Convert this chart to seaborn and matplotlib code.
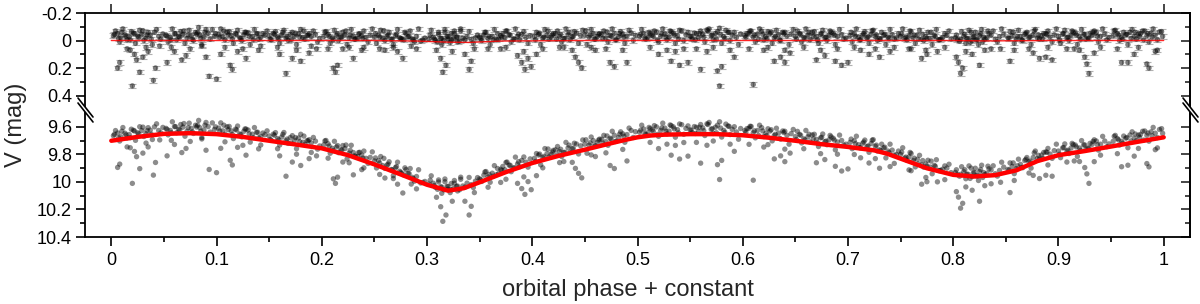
import numpy as np
import pandas as pd
import matplotlib
matplotlib.use("Agg")
import matplotlib.pyplot as plt
import seaborn as sns
from matplotlib.ticker import FixedLocator, FuncFormatter

phase = [
    0.002, 0.006, 0.009, 0.013, 0.017, 0.021, 0.025, 0.029, 0.033, 0.037, 0.041, 0.045, 0.049, 0.006, 0.008, 0.020, 0.022, 0.024, 0.027, 0.030, 0.040, 0.042, 0.015, 0.035,
    0.052, 0.056, 0.060, 0.064, 0.068, 0.072, 0.076, 0.080, 0.083, 0.084, 0.088, 0.092, 0.096, 0.098, 0.053, 0.067, 0.071, 0.060, 0.090, 0.093,
    0.102, 0.106, 0.110, 0.114, 0.118, 0.122, 0.126, 0.130, 0.134, 0.138, 0.142, 0.146, 0.100, 0.104, 0.113, 0.115, 0.120, 0.128, 0.140,
    0.150, 0.154, 0.158, 0.162, 0.166, 0.170, 0.174, 0.178, 0.182, 0.186, 0.190, 0.194, 0.198, 0.166, 0.160, 0.172, 0.180, 0.188, 0.195,
    0.202, 0.206, 0.210, 0.214, 0.218, 0.222, 0.226, 0.230, 0.234, 0.238, 0.242, 0.246, 0.211, 0.213, 0.215, 0.230, 0.220, 0.240,
    0.250, 0.254, 0.258, 0.262, 0.266, 0.270, 0.274, 0.278, 0.282, 0.286, 0.290, 0.294, 0.298, 0.277, 0.260, 0.268, 0.285,
    0.302, 0.306, 0.310, 0.313, 0.316, 0.319, 0.322, 0.325, 0.328, 0.331, 0.334, 0.338, 0.342, 0.346, 0.315, 0.318, 0.313, 0.340, 0.342, 0.336,
    0.350, 0.354, 0.358, 0.362, 0.366, 0.370, 0.374, 0.378, 0.382, 0.386, 0.390, 0.394, 0.398, 0.386, 0.390, 0.393, 0.396, 0.399, 0.370,
    0.402, 0.406, 0.410, 0.414, 0.418, 0.422, 0.426, 0.430, 0.434, 0.438, 0.442, 0.446, 0.404, 0.441, 0.447, 0.444, 0.430,
    0.450, 0.454, 0.458, 0.462, 0.466, 0.470, 0.474, 0.478, 0.482, 0.486, 0.490, 0.494, 0.498, 0.474, 0.478, 0.490, 0.460,
    0.502, 0.506, 0.510, 0.514, 0.518, 0.522, 0.526, 0.530, 0.534, 0.538, 0.542, 0.546, 0.532, 0.540, 0.548, 0.520, 0.536,
    0.550, 0.554, 0.558, 0.562, 0.566, 0.570, 0.574, 0.578, 0.582, 0.586, 0.590, 0.594, 0.598, 0.560, 0.578, 0.580, 0.576, 0.566, 0.592,
    0.602, 0.606, 0.610, 0.614, 0.618, 0.622, 0.626, 0.630, 0.634, 0.638, 0.642, 0.646, 0.610, 0.630, 0.636, 0.640, 0.645, 0.620,
    0.650, 0.654, 0.658, 0.662, 0.666, 0.670, 0.674, 0.678, 0.682, 0.686, 0.690, 0.694, 0.698, 0.670, 0.678, 0.688, 0.694, 0.700,
    0.702, 0.706, 0.710, 0.714, 0.718, 0.722, 0.726, 0.730, 0.734, 0.738, 0.742, 0.746, 0.720, 0.730, 0.740, 0.712,
    0.750, 0.754, 0.758, 0.762, 0.766, 0.770, 0.774, 0.778, 0.782, 0.786, 0.790, 0.794, 0.798, 0.770, 0.775, 0.785, 0.760,
    0.802, 0.806, 0.810, 0.813, 0.816, 0.819, 0.822, 0.825, 0.828, 0.832, 0.836, 0.840, 0.844, 0.848, 0.805, 0.807, 0.809, 0.803, 0.825, 0.830, 0.845,
    0.852, 0.856, 0.860, 0.864, 0.868, 0.872, 0.876, 0.880, 0.884, 0.888, 0.892, 0.896, 0.854, 0.882, 0.888, 0.894, 0.876,
    0.900, 0.904, 0.908, 0.912, 0.916, 0.920, 0.924, 0.928, 0.932, 0.936, 0.940, 0.944, 0.948, 0.927, 0.929, 0.925, 0.934, 0.915,
    0.952, 0.956, 0.960, 0.964, 0.968, 0.972, 0.976, 0.980, 0.984, 0.988, 0.992, 0.996, 0.999, 0.960, 0.966, 0.984, 0.986, 0.972, 0.992,
]
vmag = [
    9.663, 9.644, 9.671, 9.645, 9.655, 9.624, 9.642, 9.626, 9.649, 9.623, 9.599, 9.625, 9.603, 9.894, 9.870, 10.010, 9.778, 9.816, 9.903, 9.790, 9.950, 9.858, 9.745, 9.745,
    9.610, 9.625, 9.597, 9.617, 9.601, 9.631, 9.610, 9.587, 9.552, 9.605, 9.622, 9.597, 9.570, 9.618, 9.810, 9.786, 9.756, 9.727, 9.769, 9.909,
    9.608, 9.628, 9.599, 9.628, 9.616, 9.650, 9.631, 9.622, 9.652, 9.639, 9.669, 9.656, 9.932, 9.755, 9.842, 9.876, 9.748, 9.805, 9.759,
    9.665, 9.652, 9.684, 9.673, 9.700, 9.677, 9.696, 9.680, 9.711, 9.699, 9.716, 9.703, 9.738, 9.958, 9.810, 9.855, 9.880, 9.830, 9.810,
    9.729, 9.722, 9.755, 9.745, 9.766, 9.757, 9.790, 9.786, 9.814, 9.805, 9.828, 9.821, 9.977, 10.010, 9.965, 9.948, 9.855, 9.897,
    9.847, 9.844, 9.881, 9.877, 9.909, 9.895, 9.922, 9.949, 9.938, 9.966, 9.960, 10.007, 9.996, 10.080, 9.971, 9.975, 10.015,
    10.015, 10.009, 10.053, 10.035, 10.057, 10.032, 10.077, 10.048, 10.031, 10.056, 10.029, 10.008, 10.019, 9.994, 10.286, 10.240, 10.180, 10.240, 10.177, 10.140,
    9.977, 9.950, 9.963, 9.936, 9.947, 9.908, 9.911, 9.878, 9.898, 9.869, 9.843, 9.856, 9.832, 10.010, 10.048, 10.090, 9.997, 10.056, 10.003,
    9.828, 9.804, 9.823, 9.794, 9.799, 9.766, 9.778, 9.786, 9.752, 9.759, 9.724, 9.737, 9.954, 9.901, 9.970, 9.937, 9.851,
    9.725, 9.732, 9.699, 9.712, 9.689, 9.707, 9.682, 9.660, 9.676, 9.650, 9.655, 9.625, 9.634, 9.880, 9.902, 9.847, 9.815,
    9.638, 9.615, 9.641, 9.621, 9.599, 9.625, 9.608, 9.630, 9.599, 9.619, 9.583, 9.610, 9.805, 9.833, 9.812, 9.757, 9.734,
    9.622, 9.597, 9.632, 9.607, 9.577, 9.617, 9.602, 9.562, 9.625, 9.593, 9.617, 9.636, 9.611, 9.863, 9.982, 9.843, 9.874, 9.733, 9.777,
    9.626, 9.609, 9.642, 9.625, 9.605, 9.646, 9.629, 9.662, 9.644, 9.629, 9.661, 9.648, 9.987, 9.832, 9.810, 9.852, 9.790, 9.746,
    9.670, 9.654, 9.686, 9.672, 9.658, 9.690, 9.679, 9.707, 9.693, 9.682, 9.709, 9.698, 9.725, 9.860, 9.837, 9.886, 9.920, 9.905,
    9.712, 9.700, 9.729, 9.718, 9.742, 9.720, 9.740, 9.765, 9.752, 9.775, 9.768, 9.800, 9.862, 9.900, 9.888, 9.824,
    9.800, 9.826, 9.817, 9.844, 9.835, 9.876, 9.869, 9.891, 9.879, 9.916, 9.907, 9.899, 9.932, 10.016, 9.998, 9.999, 9.918,
    9.930, 9.958, 9.925, 9.945, 9.974, 9.935, 9.955, 9.924, 9.967, 9.937, 9.913, 9.940, 9.916, 9.892, 10.110, 10.190, 10.155, 10.070, 10.140, 10.027, 10.002,
    9.909, 9.887, 9.903, 9.872, 9.844, 9.853, 9.822, 9.830, 9.804, 9.781, 9.797, 9.772, 10.077, 9.975, 9.951, 9.958, 9.952,
    9.775, 9.752, 9.775, 9.753, 9.731, 9.753, 9.731, 9.753, 9.726, 9.702, 9.725, 9.702, 9.723, 9.941, 10.010, 9.895, 9.852, 9.847,
    9.704, 9.684, 9.704, 9.681, 9.658, 9.682, 9.659, 9.631, 9.661, 9.635, 9.645, 9.618, 9.646, 9.889, 9.878, 9.866, 9.890, 9.812, 9.765,
]
resid = [
    -0.035, -0.050, -0.020, -0.042, -0.028, -0.055, -0.033, -0.045, -0.018, -0.040, -0.060, -0.030, -0.048, 0.20, 0.16, 0.33, 0.10, 0.14, 0.23, 0.12, 0.29, 0.20, 0.06, 0.08,
    -0.038, -0.022, -0.050, -0.030, -0.045, -0.015, -0.035, -0.058, -0.095, -0.040, -0.025, -0.052, -0.080, -0.032, 0.16, 0.14, 0.11, 0.08, 0.12, 0.26,
    -0.045, -0.028, -0.060, -0.035, -0.050, -0.020, -0.042, -0.055, -0.030, -0.048, -0.022, -0.040, 0.28, 0.10, 0.18, 0.21, 0.08, 0.13, 0.07,
    -0.035, -0.052, -0.025, -0.040, -0.018, -0.045, -0.030, -0.050, -0.022, -0.038, -0.028, -0.045, -0.015, 0.24, 0.10, 0.13, 0.15, 0.09, 0.06,
    -0.030, -0.045, -0.020, -0.038, -0.025, -0.042, -0.018, -0.032, -0.015, -0.035, -0.022, -0.040, 0.20, 0.23, 0.18, 0.13, 0.06, 0.05,
    -0.025, -0.040, -0.015, -0.030, -0.010, -0.035, -0.020, -0.005, -0.028, -0.012, -0.030, 0.005, -0.018, 0.13, 0.07, 0.05, 0.04,
    -0.010, -0.025, 0.010, -0.015, 0.000, -0.030, 0.015, -0.012, -0.025, 0.005, -0.018, -0.030, -0.008, -0.020, 0.23, 0.18, 0.13, 0.21, 0.15, 0.10,
    -0.025, -0.040, -0.015, -0.030, -0.008, -0.035, -0.020, -0.042, -0.012, -0.030, -0.045, -0.022, -0.035, 0.11, 0.16, 0.21, 0.13, 0.19, 0.06,
    -0.030, -0.045, -0.018, -0.038, -0.025, -0.050, -0.030, -0.015, -0.042, -0.028, -0.055, -0.035, 0.10, 0.12, 0.20, 0.16, 0.05,
    -0.040, -0.025, -0.050, -0.030, -0.045, -0.020, -0.038, -0.052, -0.028, -0.045, -0.032, -0.055, -0.038, 0.16, 0.19, 0.16, 0.07,
    -0.030, -0.050, -0.022, -0.040, -0.060, -0.032, -0.048, -0.025, -0.055, -0.035, -0.070, -0.042, 0.15, 0.18, 0.16, 0.10, 0.08,
    -0.030, -0.055, -0.020, -0.045, -0.075, -0.035, -0.050, -0.090, -0.028, -0.060, -0.040, -0.022, -0.048, 0.21, 0.33, 0.19, 0.22, 0.08, 0.12,
    -0.035, -0.055, -0.025, -0.045, -0.068, -0.030, -0.050, -0.020, -0.042, -0.060, -0.032, -0.048, 0.32, 0.15, 0.12, 0.16, 0.09, 0.07,
    -0.030, -0.050, -0.022, -0.040, -0.058, -0.030, -0.045, -0.020, -0.038, -0.052, -0.028, -0.042, -0.018, 0.14, 0.11, 0.15, 0.18, 0.16,
    -0.035, -0.050, -0.025, -0.040, -0.020, -0.045, -0.030, -0.015, -0.038, -0.025, -0.042, -0.020, 0.10, 0.12, 0.08, 0.07,
    -0.030, -0.015, -0.035, -0.020, -0.040, -0.010, -0.028, -0.015, -0.035, -0.005, -0.022, -0.038, -0.012, 0.13, 0.10, 0.08, 0.06,
    -0.020, 0.005, -0.030, -0.012, 0.015, -0.025, -0.005, -0.035, 0.010, -0.018, -0.040, -0.010, -0.028, -0.045, 0.16, 0.24, 0.20, 0.12, 0.18, 0.07, 0.06,
    -0.020, -0.035, -0.012, -0.030, -0.045, -0.022, -0.040, -0.018, -0.035, -0.050, -0.025, -0.042, 0.15, 0.13, 0.12, 0.14, 0.09,
    -0.030, -0.048, -0.020, -0.038, -0.055, -0.028, -0.045, -0.018, -0.040, -0.058, -0.030, -0.048, -0.022, 0.17, 0.24, 0.12, 0.09, 0.06,
    -0.035, -0.050, -0.025, -0.042, -0.060, -0.030, -0.048, -0.070, -0.035, -0.055, -0.040, -0.062, -0.030, 0.16, 0.16, 0.17, 0.20, 0.10, 0.08,
]

# second batch of observations, same layout
phase_b = [
    0.004, 0.008, 0.011, 0.015, 0.019, 0.023, 0.027, 0.031, 0.035, 0.039, 0.043, 0.047, 0.018, 0.033, 0.046,
    0.054, 0.058, 0.062, 0.066, 0.070, 0.074, 0.078, 0.082, 0.086, 0.090, 0.094, 0.099, 0.057, 0.075, 0.086,
    0.104, 0.108, 0.112, 0.116, 0.120, 0.124, 0.128, 0.132, 0.136, 0.140, 0.144, 0.148, 0.108, 0.125, 0.142,
    0.152, 0.156, 0.160, 0.164, 0.168, 0.172, 0.176, 0.180, 0.184, 0.188, 0.192, 0.196, 0.158, 0.176, 0.190,
    0.204, 0.208, 0.212, 0.216, 0.220, 0.224, 0.228, 0.232, 0.236, 0.240, 0.244, 0.248, 0.206, 0.226, 0.238,
    0.252, 0.256, 0.260, 0.264, 0.268, 0.272, 0.276, 0.280, 0.284, 0.288, 0.292, 0.296, 0.255, 0.272, 0.290,
    0.304, 0.308, 0.311, 0.314, 0.317, 0.320, 0.323, 0.326, 0.329, 0.332, 0.336, 0.340, 0.344, 0.348, 0.309, 0.324, 0.345,
    0.352, 0.356, 0.360, 0.364, 0.368, 0.372, 0.376, 0.380, 0.384, 0.388, 0.392, 0.396, 0.358, 0.375, 0.392,
    0.404, 0.408, 0.412, 0.416, 0.420, 0.424, 0.428, 0.432, 0.436, 0.440, 0.444, 0.448, 0.410, 0.426, 0.438,
    0.452, 0.456, 0.460, 0.464, 0.468, 0.472, 0.476, 0.480, 0.484, 0.488, 0.492, 0.496, 0.456, 0.470, 0.486,
    0.504, 0.508, 0.512, 0.516, 0.520, 0.524, 0.528, 0.532, 0.536, 0.540, 0.544, 0.548, 0.512, 0.528, 0.544,
    0.552, 0.556, 0.560, 0.564, 0.568, 0.572, 0.576, 0.580, 0.584, 0.588, 0.592, 0.596, 0.556, 0.572, 0.588,
    0.604, 0.608, 0.612, 0.616, 0.620, 0.624, 0.628, 0.632, 0.636, 0.640, 0.644, 0.648, 0.606, 0.624, 0.640,
    0.652, 0.656, 0.660, 0.664, 0.668, 0.672, 0.676, 0.680, 0.684, 0.688, 0.692, 0.696, 0.658, 0.674, 0.690,
    0.704, 0.708, 0.712, 0.716, 0.720, 0.724, 0.728, 0.732, 0.736, 0.740, 0.744, 0.748, 0.706, 0.726, 0.744,
    0.752, 0.756, 0.760, 0.764, 0.768, 0.772, 0.776, 0.780, 0.784, 0.788, 0.792, 0.796, 0.758, 0.774, 0.792,
    0.804, 0.808, 0.812, 0.815, 0.818, 0.821, 0.824, 0.827, 0.830, 0.834, 0.838, 0.842, 0.846, 0.812, 0.818, 0.836,
    0.854, 0.858, 0.862, 0.866, 0.870, 0.874, 0.878, 0.882, 0.886, 0.890, 0.894, 0.898, 0.858, 0.872, 0.890,
    0.902, 0.906, 0.910, 0.914, 0.918, 0.922, 0.926, 0.930, 0.934, 0.938, 0.942, 0.946, 0.908, 0.920, 0.940,
    0.954, 0.958, 0.962, 0.966, 0.970, 0.974, 0.978, 0.982, 0.986, 0.990, 0.994, 0.998, 0.956, 0.976, 0.994,
]
vmag_b = [
    9.626, 9.702, 9.604, 9.680, 9.616, 9.697, 9.598, 9.669, 9.605, 9.691, 9.577, 9.643, 9.751, 9.717, 9.694,
    9.657, 9.562, 9.642, 9.582, 9.667, 9.572, 9.647, 9.587, 9.677, 9.567, 9.637, 9.599, 9.697, 9.705, 9.687,
    9.570, 9.653, 9.596, 9.684, 9.593, 9.672, 9.615, 9.710, 9.604, 9.679, 9.644, 9.628, 9.708, 9.733, 9.731,
    9.697, 9.641, 9.731, 9.640, 9.719, 9.663, 9.758, 9.653, 9.727, 9.692, 9.676, 9.761, 9.758, 9.798, 9.785,
    9.698, 9.791, 9.704, 9.787, 9.735, 9.833, 9.733, 9.813, 9.784, 9.775, 9.865, 9.781, 9.827, 9.860, 9.910,
    9.898, 9.815, 9.901, 9.853, 9.954, 9.856, 9.938, 9.910, 9.902, 9.994, 9.911, 10.003, 9.945, 10.016, 10.050,
    9.955, 10.039, 9.985, 10.082, 9.978, 10.053, 10.011, 9.989, 10.065, 9.965, 10.038, 9.967, 10.040, 9.968, 10.111, 10.140, 10.077,
    9.996, 9.924, 10.002, 9.881, 9.939, 9.887, 9.855, 9.925, 9.819, 9.889, 9.818, 9.892, 10.038, 9.980, 9.963,
    9.793, 9.875, 9.757, 9.818, 9.770, 9.742, 9.815, 9.712, 9.785, 9.718, 9.796, 9.694, 9.897, 9.859, 9.857,
    9.791, 9.673, 9.736, 9.688, 9.661, 9.733, 9.631, 9.703, 9.635, 9.711, 9.608, 9.676, 9.803, 9.788, 9.763,
    9.587, 9.654, 9.612, 9.590, 9.668, 9.572, 9.650, 9.590, 9.674, 9.578, 9.653, 9.592, 9.712, 9.725, 9.713,
    9.642, 9.602, 9.582, 9.662, 9.567, 9.647, 9.587, 9.673, 9.579, 9.655, 9.598, 9.689, 9.712, 9.702, 9.725,
    9.612, 9.596, 9.679, 9.587, 9.670, 9.613, 9.701, 9.609, 9.688, 9.631, 9.725, 9.618, 9.726, 9.728, 9.761,
    9.632, 9.716, 9.625, 9.709, 9.653, 9.742, 9.651, 9.729, 9.672, 9.766, 9.659, 9.732, 9.758, 9.794, 9.798,
    9.758, 9.667, 9.751, 9.695, 9.784, 9.692, 9.775, 9.725, 9.825, 9.725, 9.805, 9.775, 9.800, 9.830, 9.865,
    9.751, 9.842, 9.793, 9.890, 9.806, 9.892, 9.842, 9.940, 9.838, 9.915, 9.883, 9.871, 9.912, 9.967, 9.983,
    9.946, 9.889, 9.976, 9.883, 9.960, 9.900, 9.989, 9.878, 9.946, 9.904, 9.882, 9.957, 9.856, 10.036, 10.060, 10.013,
    9.861, 9.939, 9.834, 9.896, 9.822, 9.899, 9.775, 9.834, 9.785, 9.756, 9.828, 9.725, 9.989, 9.935, 9.876,
    9.823, 9.723, 9.793, 9.728, 9.814, 9.699, 9.764, 9.719, 9.693, 9.768, 9.668, 9.743, 9.855, 9.851, 9.805,
    9.661, 9.731, 9.666, 9.751, 9.635, 9.700, 9.654, 9.629, 9.703, 9.603, 9.677, 9.612, 9.794, 9.756, 9.752,
]
resid_b = [
    -0.070, 0.010, -0.085, -0.005, -0.065, 0.020, -0.075, 0.000, -0.060, 0.030, -0.080, -0.010, 0.07, 0.05, 0.04,
    0.010, -0.085, -0.005, -0.065, 0.020, -0.075, 0.000, -0.060, 0.030, -0.080, -0.010, -0.050, 0.05, 0.06, 0.04,
    -0.085, -0.005, -0.065, 0.020, -0.075, 0.000, -0.060, 0.030, -0.080, -0.010, -0.050, -0.070, 0.05, 0.06, 0.04,
    -0.005, -0.065, 0.020, -0.075, 0.000, -0.060, 0.030, -0.080, -0.010, -0.050, -0.070, 0.010, 0.05, 0.07, 0.04,
    -0.065, 0.020, -0.075, 0.000, -0.060, 0.030, -0.080, -0.010, -0.050, -0.070, 0.010, -0.085, 0.06, 0.05, 0.07,
    0.020, -0.075, 0.000, -0.060, 0.030, -0.080, -0.010, -0.050, -0.070, 0.010, -0.085, -0.005, 0.06, 0.08, 0.06,
    -0.075, 0.000, -0.060, 0.030, -0.080, -0.010, -0.050, -0.070, 0.010, -0.085, -0.005, -0.065, 0.020, -0.040, 0.07, 0.08, 0.06,
    0.000, -0.060, 0.030, -0.080, -0.010, -0.050, -0.070, 0.010, -0.085, -0.005, -0.065, 0.020, 0.06, 0.05, 0.08,
    -0.060, 0.030, -0.080, -0.010, -0.050, -0.070, 0.010, -0.085, -0.005, -0.065, 0.020, -0.075, 0.06, 0.05, 0.07,
    0.030, -0.080, -0.010, -0.050, -0.070, 0.010, -0.085, -0.005, -0.065, 0.020, -0.075, 0.000, 0.05, 0.06, 0.07,
    -0.080, -0.010, -0.050, -0.070, 0.010, -0.085, -0.005, -0.065, 0.020, -0.075, 0.000, -0.060, 0.05, 0.07, 0.06,
    -0.010, -0.050, -0.070, 0.010, -0.085, -0.005, -0.065, 0.020, -0.075, 0.000, -0.060, 0.030, 0.06, 0.05, 0.07,
    -0.050, -0.070, 0.010, -0.085, -0.005, -0.065, 0.020, -0.075, 0.000, -0.060, 0.030, -0.080, 0.06, 0.05, 0.07,
    -0.070, 0.010, -0.085, -0.005, -0.065, 0.020, -0.075, 0.000, -0.060, 0.030, -0.080, -0.010, 0.05, 0.07, 0.06,
    0.010, -0.085, -0.005, -0.065, 0.020, -0.075, 0.000, -0.060, 0.030, -0.080, -0.010, -0.050, 0.05, 0.06, 0.05,
    -0.085, -0.005, -0.065, 0.020, -0.075, 0.000, -0.060, 0.030, -0.080, -0.010, -0.050, -0.070, 0.06, 0.07, 0.05,
    -0.005, -0.065, 0.020, -0.075, 0.000, -0.060, 0.030, -0.080, -0.010, -0.050, -0.070, 0.010, -0.085, 0.08, 0.10, 0.06,
    -0.065, 0.020, -0.075, 0.000, -0.060, 0.030, -0.080, -0.010, -0.050, -0.070, 0.010, -0.085, 0.07, 0.06, 0.05,
    0.020, -0.075, 0.000, -0.060, 0.030, -0.080, -0.010, -0.050, -0.070, 0.010, -0.085, -0.005, 0.06, 0.07, 0.05,
    -0.075, 0.000, -0.060, 0.030, -0.080, -0.010, -0.050, -0.070, 0.010, -0.085, -0.005, -0.065, 0.06, 0.05, 0.07,
]

# third batch, points in the dense band only
phase_c = [
    0.003, 0.007, 0.010, 0.014, 0.018, 0.022, 0.026, 0.030, 0.034, 0.038,
    0.053, 0.057, 0.061, 0.065, 0.069, 0.073, 0.077, 0.081, 0.085, 0.089,
    0.103, 0.107, 0.111, 0.115, 0.119, 0.123, 0.127, 0.131, 0.135, 0.139,
    0.151, 0.155, 0.159, 0.163, 0.167, 0.171, 0.175, 0.179, 0.183, 0.187,
    0.203, 0.207, 0.211, 0.215, 0.219, 0.223, 0.227, 0.231, 0.235, 0.239,
    0.251, 0.255, 0.259, 0.263, 0.267, 0.271, 0.275, 0.279, 0.283, 0.287,
    0.303, 0.307, 0.311, 0.314, 0.317, 0.320, 0.323, 0.326, 0.329, 0.332,
    0.351, 0.355, 0.359, 0.363, 0.367, 0.371, 0.375, 0.379, 0.383, 0.387,
    0.403, 0.407, 0.411, 0.415, 0.419, 0.423, 0.427, 0.431, 0.435, 0.439,
    0.451, 0.455, 0.459, 0.463, 0.467, 0.471, 0.475, 0.479, 0.483, 0.487,
    0.503, 0.507, 0.511, 0.515, 0.519, 0.523, 0.527, 0.531, 0.535, 0.539,
    0.551, 0.555, 0.559, 0.563, 0.567, 0.571, 0.575, 0.579, 0.583, 0.587,
    0.603, 0.607, 0.611, 0.615, 0.619, 0.623, 0.627, 0.631, 0.635, 0.639,
    0.651, 0.655, 0.659, 0.663, 0.667, 0.671, 0.675, 0.679, 0.683, 0.687,
    0.703, 0.707, 0.711, 0.715, 0.719, 0.723, 0.727, 0.731, 0.735, 0.739,
    0.751, 0.755, 0.759, 0.763, 0.767, 0.771, 0.775, 0.779, 0.783, 0.787,
    0.803, 0.807, 0.811, 0.814, 0.817, 0.820, 0.823, 0.826, 0.829, 0.833,
    0.853, 0.857, 0.861, 0.865, 0.869, 0.873, 0.877, 0.881, 0.885, 0.889,
    0.901, 0.905, 0.909, 0.913, 0.917, 0.921, 0.925, 0.929, 0.933, 0.937,
    0.953, 0.957, 0.961, 0.965, 0.969, 0.973, 0.977, 0.981, 0.985, 0.989,
]
vmag_c = [
    9.653, 9.679, 9.631, 9.657, 9.678, 9.629, 9.650, 9.601, 9.627, 9.653,
    9.618, 9.642, 9.597, 9.621, 9.575, 9.605, 9.635, 9.600, 9.631, 9.587,
    9.629, 9.587, 9.620, 9.654, 9.622, 9.656, 9.614, 9.649, 9.678, 9.638,
    9.691, 9.660, 9.694, 9.654, 9.688, 9.717, 9.677, 9.707, 9.666, 9.701,
    9.701, 9.739, 9.772, 9.735, 9.768, 9.731, 9.770, 9.810, 9.786, 9.827,
    9.825, 9.862, 9.828, 9.870, 9.911, 9.888, 9.930, 9.897, 9.939, 9.976,
    9.987, 10.026, 10.000, 10.037, 9.998, 10.033, 10.056, 10.009, 10.030, 9.980,
    9.984, 9.927, 9.945, 9.958, 9.902, 9.915, 9.858, 9.878, 9.897, 9.852,
    9.851, 9.797, 9.814, 9.760, 9.782, 9.804, 9.762, 9.784, 9.732, 9.755,
    9.693, 9.715, 9.738, 9.695, 9.718, 9.665, 9.688, 9.705, 9.652, 9.668,
    9.623, 9.650, 9.603, 9.631, 9.654, 9.607, 9.631, 9.585, 9.614, 9.643,
    9.622, 9.647, 9.602, 9.627, 9.582, 9.612, 9.642, 9.608, 9.639, 9.595,
    9.637, 9.595, 9.628, 9.661, 9.629, 9.662, 9.620, 9.653, 9.682, 9.640,
    9.691, 9.660, 9.694, 9.653, 9.687, 9.716, 9.675, 9.703, 9.661, 9.695,
    9.688, 9.721, 9.750, 9.709, 9.738, 9.696, 9.732, 9.772, 9.747, 9.787,
    9.783, 9.819, 9.785, 9.827, 9.868, 9.844, 9.885, 9.848, 9.886, 9.918,
    9.911, 9.944, 9.911, 9.943, 9.899, 9.930, 9.955, 9.909, 9.932, 9.885,
    9.913, 9.861, 9.882, 9.894, 9.835, 9.847, 9.788, 9.806, 9.827, 9.784,
    9.799, 9.749, 9.769, 9.719, 9.745, 9.770, 9.730, 9.755, 9.705, 9.729,
    9.668, 9.693, 9.718, 9.677, 9.701, 9.651, 9.675, 9.695, 9.644, 9.664,
]
resid_c = [
    -0.045, -0.015, -0.060, -0.030, -0.005, -0.050, -0.025, -0.070, -0.040, -0.010,
    -0.030, -0.005, -0.050, -0.025, -0.070, -0.040, -0.010, -0.045, -0.015, -0.060,
    -0.025, -0.070, -0.040, -0.010, -0.045, -0.015, -0.060, -0.030, -0.005, -0.050,
    -0.010, -0.045, -0.015, -0.060, -0.030, -0.005, -0.050, -0.025, -0.070, -0.040,
    -0.060, -0.030, -0.005, -0.050, -0.025, -0.070, -0.040, -0.010, -0.045, -0.015,
    -0.050, -0.025, -0.070, -0.040, -0.010, -0.045, -0.015, -0.060, -0.030, -0.005,
    -0.040, -0.010, -0.045, -0.015, -0.060, -0.030, -0.005, -0.050, -0.025, -0.070,
    -0.015, -0.060, -0.030, -0.005, -0.050, -0.025, -0.070, -0.040, -0.010, -0.045,
    -0.005, -0.050, -0.025, -0.070, -0.040, -0.010, -0.045, -0.015, -0.060, -0.030,
    -0.070, -0.040, -0.010, -0.045, -0.015, -0.060, -0.030, -0.005, -0.050, -0.025,
    -0.045, -0.015, -0.060, -0.030, -0.005, -0.050, -0.025, -0.070, -0.040, -0.010,
    -0.030, -0.005, -0.050, -0.025, -0.070, -0.040, -0.010, -0.045, -0.015, -0.060,
    -0.025, -0.070, -0.040, -0.010, -0.045, -0.015, -0.060, -0.030, -0.005, -0.050,
    -0.010, -0.045, -0.015, -0.060, -0.030, -0.005, -0.050, -0.025, -0.070, -0.040,
    -0.060, -0.030, -0.005, -0.050, -0.025, -0.070, -0.040, -0.010, -0.045, -0.015,
    -0.050, -0.025, -0.070, -0.040, -0.010, -0.045, -0.015, -0.060, -0.030, -0.005,
    -0.040, -0.010, -0.045, -0.015, -0.060, -0.030, -0.005, -0.050, -0.025, -0.070,
    -0.015, -0.060, -0.030, -0.005, -0.050, -0.025, -0.070, -0.040, -0.010, -0.045,
    -0.005, -0.050, -0.025, -0.070, -0.040, -0.010, -0.045, -0.015, -0.060, -0.030,
    -0.070, -0.040, -0.010, -0.045, -0.015, -0.060, -0.030, -0.005, -0.050, -0.025,
]

# fitted light curve (red)
fit_phase = [0.0, 0.025, 0.05, 0.075, 0.1, 0.125, 0.15, 0.175, 0.2, 0.225, 0.25, 0.275, 0.3, 0.32,
             0.335, 0.35, 0.375, 0.4, 0.425, 0.45, 0.475, 0.4875, 0.5, 0.5125, 0.525, 0.55, 0.575,
             0.6, 0.625, 0.65, 0.675, 0.7, 0.725, 0.7375, 0.75, 0.775, 0.8, 0.82, 0.84, 0.86,
             0.88, 0.9, 0.925, 0.95, 0.975, 1.0]
fit_mag = [9.700, 9.672, 9.650, 9.645, 9.652, 9.672, 9.700, 9.727, 9.755, 9.805, 9.872, 9.945,
           10.020, 10.063, 10.045, 10.002, 9.928, 9.862, 9.810, 9.765, 9.718, 9.695, 9.675,
           9.662, 9.656, 9.652, 9.652, 9.660, 9.678, 9.700, 9.725, 9.745, 9.770, 9.795, 9.830,
           9.900, 9.948, 9.960, 9.950, 9.915, 9.848, 9.805, 9.775, 9.742, 9.708, 9.675]
# residual fit line in the upper panel
res_fit_phase = [0.0, 0.25, 0.29, 0.32, 0.34, 0.37, 0.45, 0.8, 0.83, 0.9, 1.0]
res_fit_val = [0.0, 0.0, 0.004, 0.012, 0.014, 0.004, 0.0, 0.0, 0.003, 0.0, 0.0]

assert len(phase) == len(vmag) == len(resid)
assert len(phase_b) == len(vmag_b) == len(resid_b)
assert len(phase_c) == len(vmag_c) == len(resid_c)
assert len(fit_phase) == len(fit_mag)
obs = pd.concat([pd.DataFrame({"phase": phase, "vmag": vmag, "resid": resid}),
                 pd.DataFrame({"phase": phase_b, "vmag": vmag_b, "resid": resid_b}),
                 pd.DataFrame({"phase": phase_c, "vmag": vmag_c, "resid": resid_c})],
                ignore_index=True)

sns.set_theme(style="ticks")
plt.rcParams['font.family'] = ['Liberation Sans', 'DejaVu Sans']

fig = plt.figure(figsize=(12, 3.04), dpi=100)
gs = fig.add_gridspec(2, 1, height_ratios=[0.705, 0.924], hspace=0,
                      left=85 / 1200, right=1190 / 1200, top=1 - 13 / 304, bottom=1 - 237 / 304)
ax_top = fig.add_subplot(gs[0])
ax_bot = fig.add_subplot(gs[1], sharex=ax_top)

# upper panel: residuals with error bars
ax_top.errorbar(obs["phase"], obs["resid"], yerr=0.016, fmt='none', ecolor='#b0b0b0',
                elinewidth=0.8, capsize=2.6, capthick=0.8, zorder=1)
sns.scatterplot(data=obs, x="phase", y="resid", ax=ax_top, color='black', alpha=0.5,
                s=15, edgecolor='none', zorder=2)
sns.lineplot(x=res_fit_phase, y=res_fit_val, ax=ax_top, color='red', lw=1.0, alpha=0.85, zorder=3)

# lower panel: light curve
sns.scatterplot(data=obs, x="phase", y="vmag", ax=ax_bot, color='black', alpha=0.45,
                s=15, edgecolor='none', zorder=2)
sns.lineplot(x=fit_phase, y=fit_mag, ax=ax_bot, color='red', lw=3.2, zorder=3)

fmt = FuncFormatter(lambda v, p: '{:g}'.format(round(v, 3)))

ax_top.set_xlim(-0.025, 1.025)
ax_top.set_ylim(0.505, -0.2)
ax_bot.set_ylim(10.4, 9.476)

ax_top.yaxis.set_major_locator(FixedLocator([-0.2, 0.0, 0.2, 0.4]))
ax_top.yaxis.set_minor_locator(FixedLocator([-0.1, 0.1, 0.3]))
ax_bot.yaxis.set_major_locator(FixedLocator([9.6, 9.8, 10.0, 10.2, 10.4]))
ax_bot.yaxis.set_minor_locator(FixedLocator([9.7, 9.9, 10.1, 10.3]))
ax_bot.xaxis.set_major_locator(FixedLocator([i / 10 for i in range(11)]))
ax_bot.xaxis.set_minor_locator(FixedLocator([0.05 + i / 10 for i in range(10)]))
for ax in (ax_top, ax_bot):
    ax.yaxis.set_major_formatter(fmt)
ax_bot.xaxis.set_major_formatter(fmt)

for ax in (ax_top, ax_bot):
    ax.set_xlabel('')
    ax.set_ylabel('')
    for sp in ax.spines.values():
        sp.set_linewidth(1.3)
        sp.set_color('black')
    ax.tick_params(axis='y', which='both', left=True, right=False, direction='out',
                   width=1.2, labelsize=13, pad=3, colors='black')
    ax.tick_params(axis='y', which='major', length=6.5)
    ax.tick_params(axis='y', which='minor', length=3.5)
    # right side ticks point inward
    sec = ax.secondary_yaxis('right')
    sec.yaxis.set_major_locator(ax.yaxis.get_major_locator())
    sec.yaxis.set_minor_locator(ax.yaxis.get_minor_locator())
    sec.tick_params(axis='y', which='both', direction='in', width=1.2, labelright=False)
    sec.tick_params(axis='y', which='major', length=6.5)
    sec.tick_params(axis='y', which='minor', length=3.5)
    sec.spines['right'].set_linewidth(1.3)

ax_top.spines['bottom'].set_visible(False)
ax_bot.spines['top'].set_visible(False)
ax_top.tick_params(axis='x', which='both', top=True, bottom=False, labeltop=False,
                   labelbottom=False, direction='out', width=1.2)
ax_top.tick_params(axis='x', which='major', length=6.5)
ax_top.tick_params(axis='x', which='minor', length=3.5)
ax_bot.tick_params(axis='x', which='both', top=False, bottom=True, direction='out',
                   width=1.2, labelsize=13, pad=4, colors='black')
ax_bot.tick_params(axis='x', which='major', length=6.5)
ax_bot.tick_params(axis='x', which='minor', length=3.5)

# axis break marks on both sides
W, H = 1200.0, 304.0
for xc in (85, 1190):
    a1 = ((xc - 7) / W, 1 - 98 / H)
    b1 = ((xc + 8) / W, 1 - 117 / H)
    a2 = ((xc - 7) / W, 1 - 103 / H)
    b2 = ((xc + 8) / W, 1 - 122 / H)
    fig.patches.append(plt.Polygon([a1, b1, b2, a2], closed=True, transform=fig.transFigure,
                                   facecolor='white', edgecolor='none', zorder=10))
    for a, b in ((a1, b1), (a2, b2)):
        fig.add_artist(plt.Line2D([a[0], b[0]], [a[1], b[1]], transform=fig.transFigure,
                                  color='black', lw=1.2, zorder=11))

fig.text(628 / W, 1 - 290 / H, 'orbital phase + constant', ha='center', va='center', fontsize=17)
fig.text(16 / W, 1 - 125 / H, 'V (mag)', ha='center', va='center', rotation=90, fontsize=17)

fig.savefig('out.png', dpi=100)
